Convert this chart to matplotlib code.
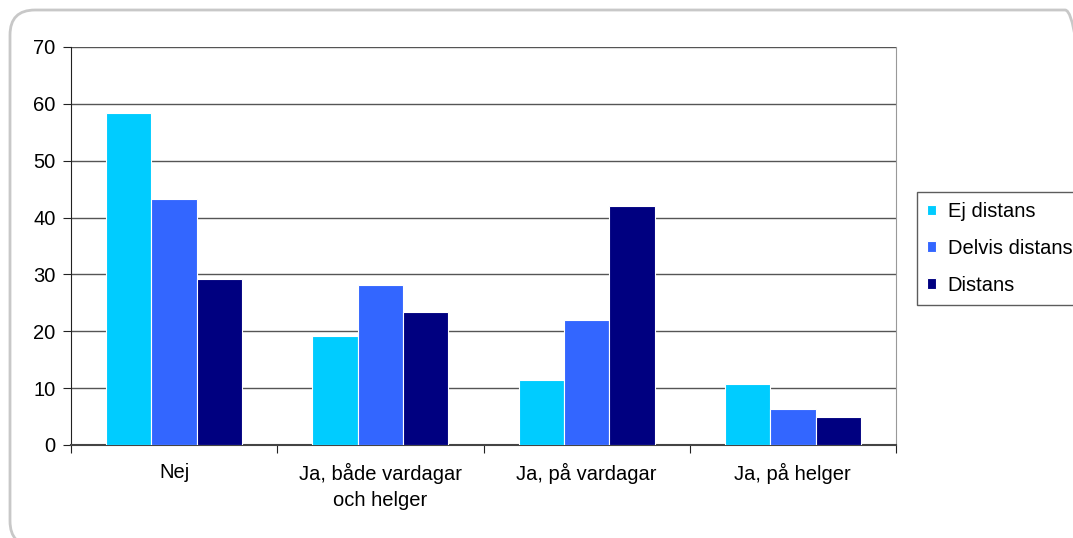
import numpy as np
import matplotlib
matplotlib.use('Agg')
import matplotlib.pyplot as plt
from matplotlib.patches import FancyBboxPatch

plt.rcParams['font.family'] = ['Liberation Sans', 'DejaVu Sans']

categories = ['Nej', 'Ja, både vardagar\noch helger', 'Ja, på vardagar', 'Ja, på helger']
series_names = ['Ej distans', 'Delvis distans', 'Distans']
ej_distans = [58.4, 19.1, 11.4, 10.7]
delvis_distans = [43.3, 28.2, 21.9, 6.3]
distans = [29.2, 23.4, 42.0, 4.9]
colors = ['#00CCFF', '#3366FF', '#000080']

fs = 14.5

fig = plt.figure(figsize=(10.73, 5.38), dpi=100)
ax = fig.add_axes([71/1073, 1 - 445/538, (896 - 71)/1073, (445 - 47)/538])

# rounded outer frame (Excel chart area)
frame = FancyBboxPatch((0.10, -0.08), 10.80, 5.36,
                       boxstyle='round,pad=0,rounding_size=0.25',
                       transform=fig.dpi_scale_trans, facecolor='none',
                       edgecolor='#C8C8C8', linewidth=2, zorder=0)
fig.patches.append(frame)

x = np.arange(len(categories))
w = 0.22
for i, (vals, name) in enumerate(zip([ej_distans, delvis_distans, distans], series_names)):
    ax.bar(x + (i - 1) * w, vals, width=w, color=colors[i], edgecolor='white',
           linewidth=0.8, label=name, zorder=3)

ax.set_xlim(-0.5, 3.5)
ax.set_ylim(0, 70)
ax.set_yticks(range(0, 71, 10))
ax.yaxis.grid(True, color='#555555', linewidth=1, zorder=0)
ax.set_axisbelow(True)

ax.set_xticks(np.arange(-0.5, 4, 1))
ax.set_xticklabels([])
ax.set_xticks(x, minor=True)
ax.set_xticklabels(categories, minor=True, linespacing=1.45)
ax.tick_params(axis='x', which='minor', length=0, pad=13, labelsize=fs)
ax.tick_params(axis='x', which='major', length=6, direction='out', color='#222222')
ax.tick_params(axis='y', length=6, direction='out', pad=5, labelsize=fs, color='#222222')

ax.spines['top'].set_visible(False)
ax.spines['right'].set_color('#999999')
ax.spines['left'].set_color('#222222')
ax.spines['bottom'].set_color('#444444')
ax.spines['bottom'].set_linewidth(1.5)

leg = fig.legend(loc='upper left', bbox_to_anchor=(917/1073, 1 - 192/538),
                 borderaxespad=0, fontsize=fs, frameon=True, fancybox=False,
                 handlelength=0.42, handleheight=0.42, handletextpad=0.6,
                 labelspacing=0.88, borderpad=0.5)
leg.get_frame().set_edgecolor('#333333')
leg.get_frame().set_linewidth(1)

fig.savefig('out.png', dpi=100)
